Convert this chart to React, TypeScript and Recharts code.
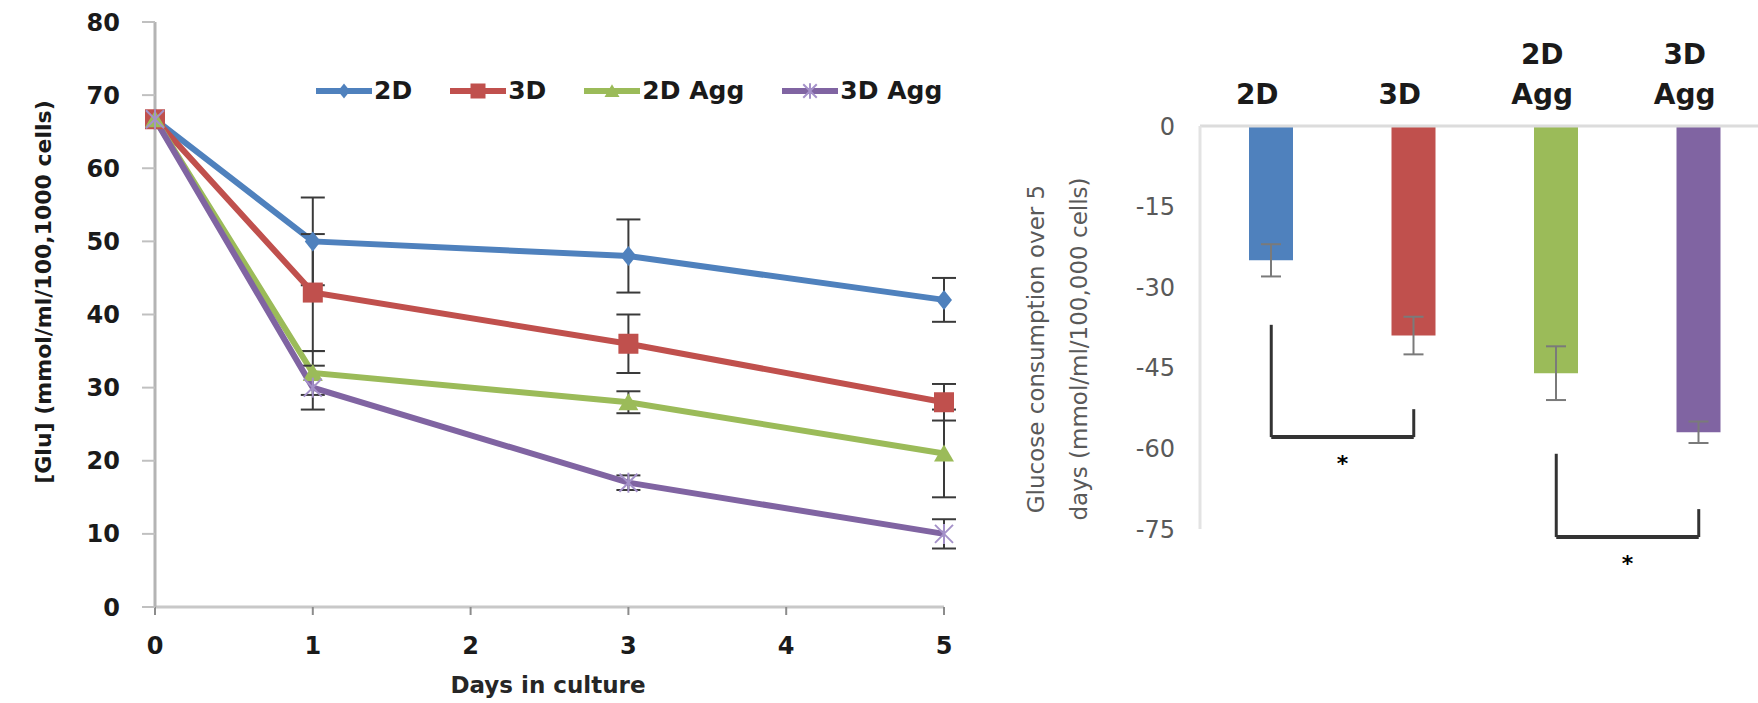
import { LineChart, Line, XAxis, YAxis, ErrorBar, Legend, BarChart, Bar, Cell, ReferenceLine } from 'recharts'

// left panel: glucose in medium over time
const DAYS = [0, 1, 3, 5]
const GLU_2D = [66.7, 50, 48, 42]
const ERR_2D = [0, 6, 5, 3]
const GLU_3D = [66.7, 43, 36, 28]
const ERR_3D = [0, 8, 4, 2.5]
const GLU_2D_AGG = [66.7, 32, 28, 21]
const ERR_2D_AGG = [0, 3, 1.5, 6]
const GLU_3D_AGG = [66.7, 30, 17, 10]
const ERR_3D_AGG = [0, 3, 1, 2]
const DAY_TICKS = [0, 1, 2, 3, 4, 5]
const GLU_TICKS = [0, 10, 20, 30, 40, 50, 60, 70, 80]

// right panel: total consumption over 5 days
const GROUPS = ['2D', '3D', '2D Agg', '3D Agg']
const CONSUMPTION = [-25, -39, -46, -57]
const CONSUMPTION_ERR = [3, 3.5, 5, 2]
const CONSUMPTION_TICKS = [-75, -60, -45, -30, -15, 0]
const BRACKETS = [
  { from: '2D', to: '3D', leftTop: -37, rightTop: -52.7, bottom: -57.9 },
  { from: '2D Agg', to: '3D Agg', leftTop: -61, rightTop: -71.3, bottom: -76.5 },
]

const COLORS = ['#4F81BD', '#C0504D', '#9BBB59', '#8064A2']
const FONT = '"DejaVu Sans", sans-serif'

type Shape = 'diamond' | 'square' | 'triangle' | 'star'

const SERIES: { name: string; key: string; err: string; color: string; shape: Shape }[] = [
  { name: '2D', key: 's2d', err: 'e2d', color: COLORS[0], shape: 'diamond' },
  { name: '3D', key: 's3d', err: 'e3d', color: COLORS[1], shape: 'square' },
  { name: '2D Agg', key: 's2da', err: 'e2da', color: COLORS[2], shape: 'triangle' },
  { name: '3D Agg', key: 's3da', err: 'e3da', color: COLORS[3], shape: 'star' },
]

const lineData = DAYS.map((day, i) => ({
  day,
  s2d: GLU_2D[i],
  e2d: ERR_2D[i],
  s3d: GLU_3D[i],
  e3d: ERR_3D[i],
  s2da: GLU_2D_AGG[i],
  e2da: ERR_2D_AGG[i],
  s3da: GLU_3D_AGG[i],
  e3da: ERR_3D_AGG[i],
}))

const barData = GROUPS.map((group, i) => ({ group, value: CONSUMPTION[i], err: CONSUMPTION_ERR[i] }))

function Marker({ shape, color, cx, cy, s = 1 }: { shape: Shape; color: string; cx: number; cy: number; s?: number }) {
  if (shape === 'square') {
    return <rect x={cx - 10 * s} y={cy - 10 * s} width={20 * s} height={20 * s} fill={color} />
  }
  if (shape === 'diamond') {
    return <polygon points={`${cx},${cy - 10 * s} ${cx + 8 * s},${cy} ${cx},${cy + 10 * s} ${cx - 8 * s},${cy}`} fill={color} />
  }
  if (shape === 'triangle') {
    return <polygon points={`${cx},${cy - 9 * s} ${cx + 10 * s},${cy + 8 * s} ${cx - 10 * s},${cy + 8 * s}`} fill={color} />
  }
  const r = 9 * s
  return (
    <g stroke="#a491c9" strokeWidth={2}>
      <line x1={cx - r} y1={cy - r} x2={cx + r} y2={cy + r} />
      <line x1={cx - r} y1={cy + r} x2={cx + r} y2={cy - r} />
      <line x1={cx} y1={cy - r - 1} x2={cx} y2={cy + r + 1} />
    </g>
  )
}

const makeDot = (shape: Shape, color: string) => (props: any) => {
  const { cx, cy, index } = props
  if (cx == null || cy == null) return <g key={`d-${index}`} />
  return (
    <g key={`d-${index}`}>
      <Marker shape={shape} color={color} cx={cx} cy={cy} />
    </g>
  )
}

function LineLegend() {
  return (
    <div style={{ display: 'flex', alignItems: 'center', gap: 38, fontFamily: FONT, fontWeight: 700, fontSize: 25, color: '#1a1a1a' }}>
      {SERIES.map((s) => (
        <div key={s.key} style={{ display: 'flex', alignItems: 'center' }}>
          <svg width={56} height={24}>
            <line x1={0} y1={12} x2={56} y2={12} stroke={s.color} strokeWidth={6} />
            <Marker shape={s.shape} color={s.color} cx={28} cy={12} s={0.75} />
          </svg>
          <span style={{ marginLeft: 2 }}>{s.name}</span>
        </div>
      ))}
    </div>
  )
}

function GroupTick({ x, y, payload }: any) {
  const words = String(payload.value).split(' ')
  return (
    <g>
      {words.map((w, i) => (
        <text
          key={i}
          x={x - 14}
          y={y - 22 - (words.length - 1 - i) * 40}
          textAnchor="middle"
          fontFamily={FONT}
          fontWeight={700}
          fontSize={28}
          fill="#1a1a1a"
        >
          {w}
        </text>
      ))}
    </g>
  )
}

const axisGray = '#8c8c8c'

export default function App() {
  return (
    <div style={{ position: 'absolute', left: 0, top: 0, width: 1758, height: 703, background: '#fff' }}>
      <div style={{ position: 'absolute', left: 0, top: 0 }}>
        <LineChart width={980} height={703} data={lineData} margin={{ top: 22, right: 36, bottom: 0, left: 0 }}>
          <XAxis
            dataKey="day"
            type="number"
            domain={[0, 5]}
            ticks={DAY_TICKS}
            height={96}
            axisLine={{ stroke: '#c8c8c8', strokeWidth: 3 }}
            tickLine={{ stroke: axisGray, strokeWidth: 2 }}
            tickSize={8}
            tickMargin={22}
            tick={{ fontFamily: FONT, fontWeight: 700, fontSize: 24, fill: '#1a1a1a' }}
            label={() => (
              <text x={548} y={693} textAnchor="middle" fontFamily={FONT} fontWeight={700} fontSize={23} fill="#262626">
                Days in culture
              </text>
            )}
          />
          <YAxis
            domain={[0, 80]}
            ticks={GLU_TICKS}
            width={155}
            axisLine={{ stroke: '#b4b4b4', strokeWidth: 3 }}
            tickLine={{ stroke: '#c0c0c0', strokeWidth: 2 }}
            tickSize={13}
            tickMargin={22}
            tick={{ fontFamily: FONT, fontWeight: 700, fontSize: 24, fill: '#1a1a1a' }}
            label={() => (
              <text
                x={45}
                y={292}
                transform="rotate(-90 45 292)"
                textAnchor="middle"
                dominantBaseline="middle"
                fontFamily={FONT}
                fontWeight={700}
                fontSize={22}
                fill="#1a1a1a"
              >
                [Glu] (mmol/ml/100,1000 cells)
              </text>
            )}
          />
          <Legend
            layout="horizontal"
            verticalAlign="middle"
            align="center"
            content={() => <LineLegend />}
            wrapperStyle={{ position: 'absolute', top: 76, left: 316, width: 'auto' }}
          />
          {SERIES.map((s) => (
            <Line
              key={s.key}
              dataKey={s.key}
              name={s.name}
              stroke={s.color}
              strokeWidth={6}
              dot={makeDot(s.shape, s.color)}
              activeDot={false}
              isAnimationActive={false}
            >
              <ErrorBar dataKey={s.err} direction="y" width={12} stroke="#3a3a3a" strokeWidth={2} />
            </Line>
          ))}
        </LineChart>
      </div>
      <div style={{ position: 'absolute', left: 980, top: 0, width: 778, height: 703, overflow: 'hidden' }}>
        <BarChart width={790} height={703} data={barData} margin={{ top: 0, right: 0, bottom: 174, left: 0 }}>
          <XAxis
            dataKey="group"
            orientation="top"
            height={126}
            axisLine={{ stroke: '#dcdcdc', strokeWidth: 3 }}
            tickLine={false}
            tickSize={0}
            tickMargin={0}
            tick={<GroupTick />}
          />
          <YAxis
            domain={[-75, 0]}
            ticks={CONSUMPTION_TICKS}
            width={220}
            axisLine={{ stroke: '#e3e3e3', strokeWidth: 3 }}
            tickLine={false}
            tickSize={0}
            tickMargin={25}
            tick={{ fontFamily: FONT, fontSize: 24, fill: '#595959' }}
            label={() => (
              <g fontFamily={FONT} fontSize={23} fill="#595959">
                <text x={57} y={349} transform="rotate(-90 57 349)" textAnchor="middle" dominantBaseline="middle">
                  Glucose consumption over 5
                </text>
                <text x={100} y={349} transform="rotate(-90 100 349)" textAnchor="middle" dominantBaseline="middle">
                  days (mmol/ml/100,000 cells)
                </text>
              </g>
            )}
          />
          <Bar dataKey="value" barSize={44} isAnimationActive={false}>
            {barData.map((d, i) => (
              <Cell key={d.group} fill={COLORS[i]} />
            ))}
            <ErrorBar dataKey="err" direction="y" width={10} stroke="#7a7a7a" strokeWidth={2} />
          </Bar>
          {BRACKETS.map((b) => [
            <ReferenceLine
              key={`${b.from}-l`}
              segment={[{ x: b.from, y: b.leftTop }, { x: b.from, y: b.bottom }]}
              stroke="#333"
              strokeWidth={3}
              ifOverflow="visible"
            />,
            <ReferenceLine
              key={`${b.from}-r`}
              segment={[{ x: b.to, y: b.rightTop }, { x: b.to, y: b.bottom }]}
              stroke="#333"
              strokeWidth={3}
              ifOverflow="visible"
            />,
            <ReferenceLine
              key={`${b.from}-b`}
              segment={[{ x: b.from, y: b.bottom }, { x: b.to, y: b.bottom }]}
              stroke="#333"
              strokeWidth={4}
              ifOverflow="visible"
              label={{ value: '*', position: 'bottom', offset: 18, fill: '#000', fontSize: 22, fontFamily: FONT, fontWeight: 700 }}
            />,
          ])}
        </BarChart>
      </div>
    </div>
  )
}
